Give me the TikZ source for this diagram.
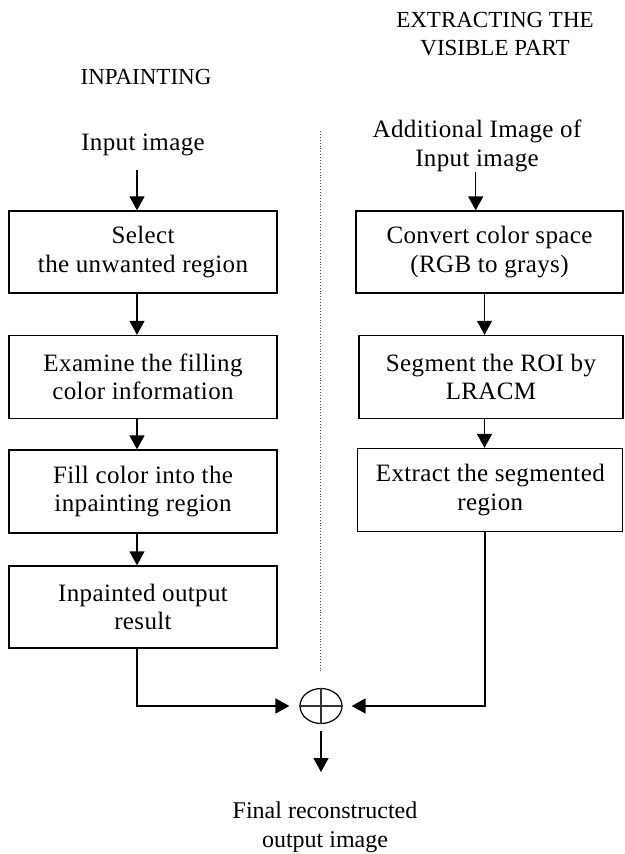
\documentclass[tikz,border=0pt]{standalone}
\usepackage{fontspec}
\setmainfont{Liberation Serif}
\newfontfamily\boxfont[LetterSpace=1.5]{Liberation Serif}
\usetikzlibrary{arrows.meta,shapes.geometric}
\begin{document}
\begin{tikzpicture}[x=1pt,y=-1pt,
  box/.style={draw, line width=1.3pt, inner sep=0pt, align=center,
    font=\boxfont\fontsize{25}{28.5}\selectfont},
  lbl/.style={align=center, inner sep=0pt, font=\boxfont\fontsize{25}{28.5}\selectfont},
  ttl/.style={align=center, inner sep=0pt, font=\fontsize{23}{28}\selectfont},
  fin/.style={align=center, inner sep=0pt, font=\fontsize{24}{29}\selectfont},
  arr/.style={line width=1.3pt, -{Triangle[length=14pt,width=15pt]}},
  ln/.style={line width=1.3pt}]
\useasboundingbox (0,0) rectangle (624,854);

% titles
\node[ttl] (t1) at (146,77) {INPAINTING};
\node[ttl] (t2) at (495,34) {EXTRACTING THE\\VISIBLE PART};

% left column
\node[lbl] (inp) at (143,145) {Input image};
\node[box, minimum width=268pt, minimum height=82pt] (l1) at (143,252) {Select\\the unwanted region};
\node[box, minimum width=268pt, minimum height=83pt] (l2) at (143,377) {Examine the filling\\color information};
\node[box, minimum width=268pt, minimum height=83pt] (l3) at (143,491.5) {Fill color into the\\inpainting region};
\node[box, minimum width=268pt, minimum height=82pt] (l4) at (143,607) {Inpainted output\\result};

% right column
\node[lbl] (add) at (477,146) {Additional Image of\\Input image};
\node[box, minimum width=267pt, minimum height=82pt] (r1) at (489.5,252) {Convert color space\\(RGB to grays)};
\node[box, minimum width=264pt, minimum height=83pt] (r2) at (491,377) {Segment the ROI by\\LRACM};
\node[box, minimum width=265pt, minimum height=83pt] (r3) at (490.3,490) {Extract the segmented\\region};

% sum node
\node[ellipse, draw, line width=1.2pt, minimum width=42pt, minimum height=35pt, inner sep=0pt] (sum) at (321,706) {};
\draw[line width=1.2pt, black!80] (sum.north) -- (sum.south);
\draw[line width=1.2pt, black!80] (sum.west) -- (sum.east);

\node[fin] (out) at (325,827) {Final reconstructed\\output image};

% helper x positions
\coordinate (lx) at (137,0);
\coordinate (rxa) at (475.7,0);
\coordinate (rx) at (484.5,0);
\coordinate (inpb) at (137,170);
\coordinate (addb) at (475.7,172);
\coordinate (lcorner) at (137,706);
\coordinate (rcorner) at (485,706);
\coordinate (dtop) at (320,131);
\coordinate (dbot) at (320,671);
\coordinate (sumout) at (321,731);
\coordinate (outtop) at (321,772);

% dotted separator
\draw[dotted, line width=0.9pt, black!70] (dtop) -- (dbot);

% left arrows
\draw[arr] (inpb) -- (l1.north -| lx);
\draw[arr] (l1.south -| lx) -- (l2.north -| lx);
\draw[arr] (l2.south -| lx) -- (l3.north -| lx);
\draw[arr] (l3.south -| lx) -- (l4.north -| lx);
\draw[arr] (l4.south -| lx) -- (lcorner) -- ([xshift=-10pt]sum.west);

% right arrows
\draw[arr] (addb) -- (r1.north -| rxa);
\draw[arr] (r1.south -| rx) -- (r2.north -| rx);
\draw[arr] (r2.south -| rx) -- (r3.north -| rx);
\draw[arr] (r3.south -| rcorner) -- (rcorner) -- ([xshift=9pt]sum.east);

% output arrow
\draw[arr] (sumout) -- (outtop);
\end{tikzpicture}
\end{document}
